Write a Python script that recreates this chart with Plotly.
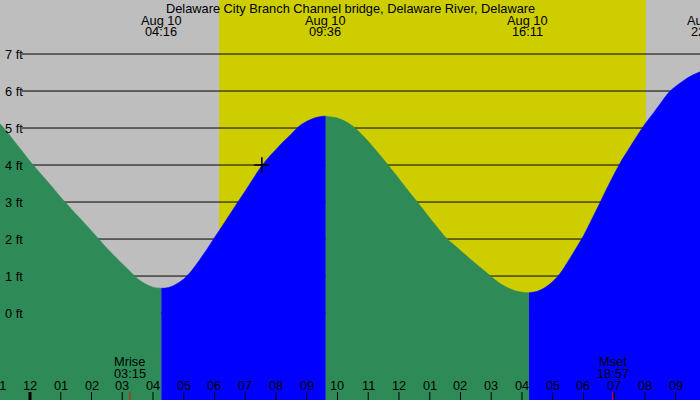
import plotly.graph_objects as go

# --- tide data (hours after midnight Aug 10, height in ft) ---
fall1_h = [-0.98, -0.75, -0.5, -0.25, 0.0, 0.25, 0.5, 0.75, 1.0, 1.25, 1.5, 1.75, 2.0,
           2.25, 2.5, 2.75, 3.0, 3.25, 3.5, 3.75, 4.0, 4.27]
fall1_ft = [5.12, 4.90, 4.63, 4.37, 4.10, 3.86, 3.62, 3.38, 3.13, 2.90, 2.67, 2.45, 2.22,
            1.99, 1.75, 1.54, 1.33, 1.13, 0.93, 0.79, 0.70, 0.67]

rise1_h = [4.27, 4.5, 4.75, 5.0, 5.25, 5.5, 5.75, 6.0, 6.25, 6.5, 6.75, 7.0, 7.25, 7.5,
           7.75, 8.0, 8.25, 8.5, 8.75, 9.0, 9.25, 9.5, 9.62]
rise1_ft = [0.67, 0.69, 0.78, 0.92, 1.14, 1.42, 1.72, 2.04, 2.35, 2.67, 2.99, 3.30, 3.62, 3.94,
            4.20, 4.42, 4.64, 4.84, 5.05, 5.18, 5.27, 5.315, 5.32]

fall2_h = [9.62, 10.0, 10.25, 10.5, 10.75, 11.0, 11.25, 11.5, 11.75, 12.0, 12.25, 12.5, 12.75,
           13.0, 13.25, 13.5, 13.75, 14.0, 14.25, 14.5, 14.75, 15.0, 15.25, 15.5, 15.75,
           16.0, 16.23]
fall2_ft = [5.32, 5.27, 5.18, 5.05, 4.86, 4.64, 4.40, 4.15, 3.89, 3.63, 3.36, 3.10, 2.84,
            2.57, 2.31, 2.06, 1.87, 1.69, 1.51, 1.33, 1.16, 0.99, 0.82, 0.70, 0.61,
            0.565, 0.55]

rise2_h = [16.23, 16.5, 16.75, 17.0, 17.25, 17.5, 17.75, 18.0, 18.25, 18.5, 18.75, 19.0,
           19.25, 19.5, 19.75, 20.0, 20.25, 20.5, 20.75, 21.0, 21.25, 21.5, 21.79]
rise2_ft = [0.55, 0.59, 0.69, 0.85, 1.08, 1.40, 1.74, 2.09, 2.50, 2.92, 3.35, 3.76,
            4.14, 4.47, 4.80, 5.11, 5.38, 5.66, 5.94, 6.13, 6.28, 6.41, 6.52]

# extremes labelled at the top
extreme_h = [4.27, 9.6, 16.18, 22.03]
extreme_times = ["04:16", "09:36", "16:11", "22:02"]

# daylight, moon, current position
sunrise_h = 6.15
sunset_h = 20.03
moon_h = [3.25, 18.95]
moon_names = ["Mrise", "Mset"]
moon_times = ["03:15", "18:57"]
now_h = 7.54
now_ft = 4.0

hour_ticks = list(range(-1, 22))
hour_labels = ["11", "12", "01", "02", "03", "04", "05", "06", "07", "08", "09", "10",
               "11", "12", "01", "02", "03", "04", "05", "06", "07", "08", "09"]
ft_levels = [0, 1, 2, 3, 4, 5, 6, 7]

X_RANGE = [-0.976, 21.79]
Y_RANGE = [-2.35, 8.46]
FONT = "Liberation Sans"
GREEN = "#2E8B57"
BLUE = "#0000FF"


def py(p):
    # pixel row -> paper y
    return 1 - p / 400


def px_(h):
    # hour -> paper x (lets labels hang off the edge)
    return (h - X_RANGE[0]) / (X_RANGE[1] - X_RANGE[0])


fig = go.Figure()

segments = [(fall1_h, fall1_ft, GREEN), (rise1_h, rise1_ft, BLUE),
            (fall2_h, fall2_ft, GREEN), (rise2_h, rise2_ft, BLUE)]
for hs, fts, col in segments:
    fig.add_trace(go.Scatter(x=[hs[0], hs[-1]], y=[Y_RANGE[0], Y_RANGE[0]],
                             mode="lines", line=dict(width=0.5, color=col),
                             hoverinfo="skip"))
    fig.add_trace(go.Scatter(x=hs, y=fts, mode="lines", fill="tonexty",
                             fillcolor=col, line=dict(width=0.5, color=col, shape="spline"),
                             hoverinfo="skip"))

fig.add_trace(go.Scatter(x=[now_h], y=[now_ft], mode="markers",
                         marker=dict(symbol="cross-thin", size=11,
                                     line=dict(width=1.5, color="black"))))

shapes = [dict(type="rect", xref="x", yref="paper", x0=sunrise_h, x1=sunset_h,
               y0=0, y1=1, fillcolor="#CDCD00", line_width=0, layer="below")]
for lv in ft_levels:
    shapes.append(dict(type="line", xref="paper", yref="y", x0=22 / 700, x1=1,
                       y0=lv, y1=lv, line=dict(color="black", width=1), layer="below"))
for h in hour_ticks:
    shapes.append(dict(type="line", xref="x", yref="paper", x0=h, x1=h,
                       y0=0, y1=py(392), line=dict(color="black", width=3 if h == 0 else 1)))
for h in moon_h:
    shapes.append(dict(type="line", xref="x", yref="paper", x0=h, x1=h,
                       y0=0, y1=py(392), line=dict(color="red", width=1)))

annotations = []
for h, lab in zip(hour_ticks, hour_labels):
    annotations.append(dict(x=px_(h), y=py(385), xref="paper", yref="paper", text=lab,
                            showarrow=False, xanchor="center", yanchor="middle"))
for lv in ft_levels:
    annotations.append(dict(x=3 / 700, y=lv, xref="paper", yref="y", text=f"{lv} ft",
                            showarrow=False, xanchor="left", yanchor="middle"))
for h, t in zip(extreme_h, extreme_times):
    annotations.append(dict(x=px_(h), y=py(20), xref="paper", yref="paper", text="Aug 10",
                            showarrow=False, xanchor="center", yanchor="middle"))
    annotations.append(dict(x=px_(h), y=py(31), xref="paper", yref="paper", text=t,
                            showarrow=False, xanchor="center", yanchor="middle"))
for h, n, t in zip(moon_h, moon_names, moon_times):
    annotations.append(dict(x=h, y=py(361.5), xref="x", yref="paper", text=n,
                            showarrow=False, xanchor="center", yanchor="middle"))
    annotations.append(dict(x=h, y=py(373), xref="x", yref="paper", text=t,
                            showarrow=False, xanchor="center", yanchor="middle"))
annotations.append(dict(x=0.5, y=py(8), xref="paper", yref="paper",
                        text="Delaware City Branch Channel bridge, Delaware River, Delaware",
                        showarrow=False, xanchor="center", yanchor="middle"))

fig.update_layout(
    width=700, height=400,
    margin=dict(l=0, r=0, t=0, b=0),
    paper_bgcolor="#BEBEBE", plot_bgcolor="rgba(0,0,0,0)",
    font=dict(family=FONT, size=12.8, color="black"),
    showlegend=False,
    xaxis=dict(range=X_RANGE, visible=False, fixedrange=True),
    yaxis=dict(range=Y_RANGE, visible=False, fixedrange=True),
    shapes=shapes, annotations=annotations,
)

# page body has a default margin; drop it so the figure fills the window
fig.write_html("out.html", config={"displayModeBar": False},
               post_script="document.body.style.margin='0';")
